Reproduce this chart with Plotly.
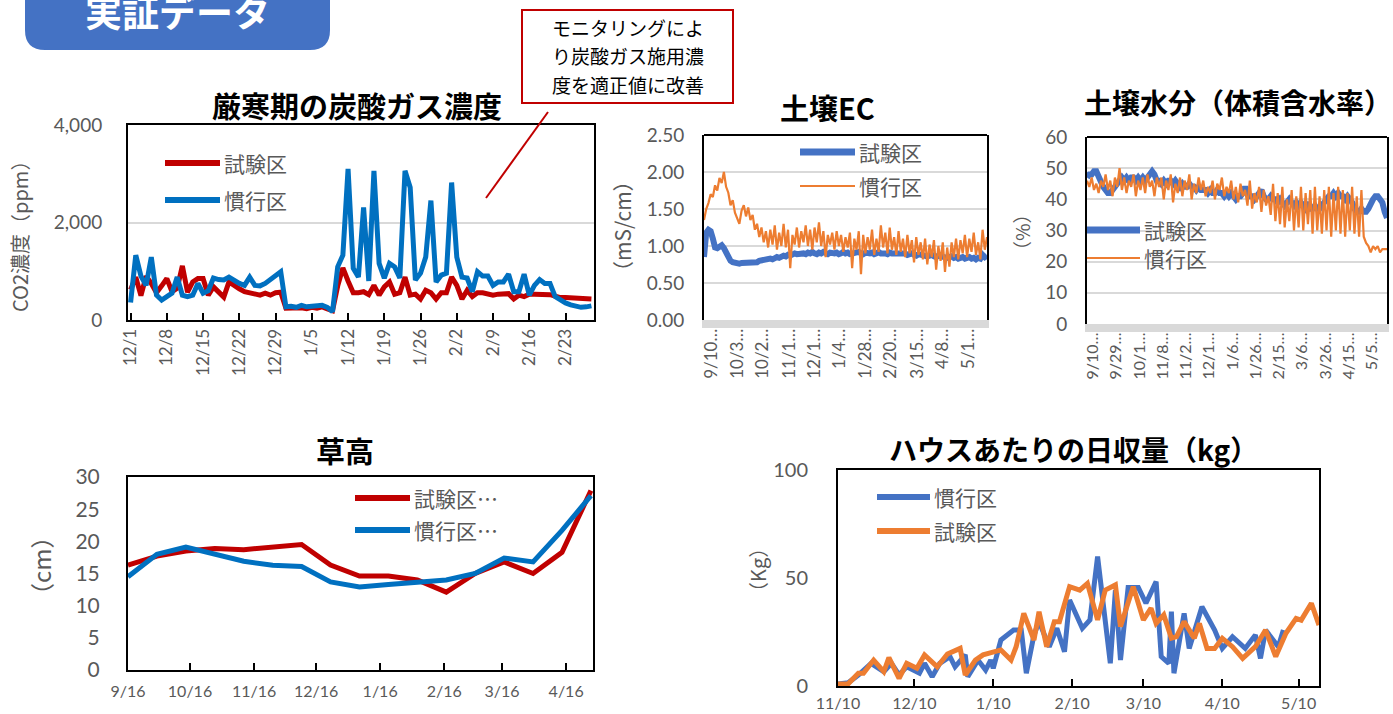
import plotly.graph_objects as go

W, H = 1393, 714


def fx(x):
    """page pixel -> paper x"""
    return x / W


def fy(y):
    """page pixel -> paper y"""
    return 1 - y / H


GREY = "#595959"
GRID = "#d9d9d9"
NUM_FONT = "Lato, 'Noto Sans CJK JP', sans-serif"
JP_FONT = "'Noto Sans CJK JP', sans-serif"

# ---------------- 厳寒期の炭酸ガス濃度 (daily, 12/1 - 2/28) ----------------
co2_names = ["試験区", "慣行区"]
co2_test = [620, 880, 500, 900, 750, 560, 700, 850, 580, 650,
            1110, 570, 780, 850, 850, 510, 680, 560, 470, 780,
            700, 640, 580, 550, 530, 510, 550, 510, 560, 570,
            240, 250, 260, 250, 230, 260, 240, 270, 230, 190,
            700, 1070, 800, 560, 560, 580, 520, 710, 510, 680,
            780, 530, 560, 880, 510, 530, 430, 610, 560, 430,
            560, 560, 880, 710, 430, 610, 480, 560, 560, 540,
            510, 530, 530, 540, 430, 510, 480, 530, 530, 530,
            530, 520, 490, 460, 460, 450, 460, 450, 440, 430]
co2_conv = [360, 1330, 900, 710, 1290, 510, 410, 480, 550, 880,
            510, 480, 510, 750, 550, 600, 860, 830, 820, 880,
            800, 750, 710, 880, 710, 700, 750, 820, 900, 990,
            270, 280, 260, 300, 270, 280, 270, 300, 260, 170,
            1090, 1330, 3100, 1060, 880, 2310, 800, 3060, 1160, 860,
            1160, 1090, 860, 3060, 2720, 820, 960, 1290, 2450, 780,
            920, 960, 2820, 1290, 880, 860, 580, 990, 900, 900,
            710, 780, 780, 940, 580, 580, 940, 510, 710, 830,
            750, 750, 480, 410, 350, 310, 290, 260, 270, 290]
co2_day = [i + 0.5 for i in range(len(co2_test))]
co2_tick_pos = [0.5, 7.5, 14.5, 21.5, 28.5, 35.5, 42.5, 49.5, 56.5, 63.5, 70.5, 77.5, 84.5]
co2_tick_text = ["12/1", "12/8", "12/15", "12/22", "12/29", "1/5", "1/12",
                 "1/19", "1/26", "2/2", "2/9", "2/16", "2/23"]

# ---------------- 土壌EC (sensor log, sampled every 2 days) ----------------
ec_names = ["試験区", "慣行区"]
ec_day = list(range(0, 257, 2))
ec_test = [0.85, 1.18, 1.22, 1.20, 1.10, 0.98, 0.97, 1.00, 1.01, 0.97,
           0.90, 0.84, 0.80, 0.78, 0.77, 0.77, 0.76, 0.77, 0.77, 0.78,
           0.78, 0.77, 0.79, 0.78, 0.78, 0.80, 0.81, 0.80, 0.82, 0.83,
           0.83, 0.82, 0.84, 0.85, 0.84, 0.86, 0.87, 0.86, 0.88, 0.87,
           0.89, 0.90, 0.89, 0.90, 0.91, 0.90, 0.89, 0.91, 0.90, 0.92,
           0.90, 0.89, 0.91, 0.90, 0.92, 0.90, 0.89, 0.91, 0.90, 0.90,
           0.91, 0.89, 0.90, 0.92, 0.90, 0.91, 0.89, 0.90, 0.91, 0.90,
           0.92, 0.90, 0.89, 0.91, 0.90, 0.90, 0.91, 0.89, 0.90, 0.92,
           0.90, 0.91, 0.90, 0.89, 0.91, 0.90, 0.90, 0.89, 0.91, 0.90,
           0.89, 0.90, 0.88, 0.89, 0.90, 0.88, 0.87, 0.89, 0.88, 0.87,
           0.88, 0.86, 0.87, 0.88, 0.86, 0.85, 0.87, 0.86, 0.85, 0.86,
           0.84, 0.85, 0.86, 0.84, 0.85, 0.83, 0.84, 0.85, 0.83, 0.84,
           0.85, 0.83, 0.84, 0.82, 0.84, 0.83, 0.88, 0.85, 0.87]
ec_conv = [1.35, 1.50, 1.58, 1.70, 1.66, 1.82, 1.75, 1.92, 1.85, 2.00,
           1.80, 1.72, 1.55, 1.62, 1.45, 1.38, 1.30, 1.48, 1.55, 1.40,
           1.52, 1.35, 1.42, 1.22, 1.30, 1.12, 1.25, 1.05, 1.20, 0.98,
           1.22, 1.02, 1.28, 0.95, 1.18, 1.00, 1.30, 0.98, 1.22, 0.70,
           1.15, 1.02, 1.25, 0.98, 1.20, 1.05, 1.28, 1.00, 1.22, 0.95,
           1.25, 1.05, 1.32, 1.00, 1.20, 0.85, 1.15, 1.02, 1.18, 0.95,
           1.20, 1.00, 1.15, 0.92, 1.12, 0.98, 1.18, 0.70, 1.10, 0.95,
           1.20, 0.62, 1.15, 0.90, 1.12, 0.95, 1.22, 0.88, 1.10, 0.92,
           1.28, 0.98, 1.18, 0.90, 1.25, 0.95, 1.12, 0.88, 1.20, 0.92,
           1.10, 0.85, 1.15, 0.90, 1.08, 0.78, 1.12, 0.88, 1.05, 0.82,
           1.10, 0.75, 1.02, 0.85, 1.08, 0.68, 1.00, 0.80, 1.05, 0.65,
           0.98, 0.72, 1.05, 0.85, 1.10, 0.82, 1.08, 0.90, 1.15, 0.85,
           1.10, 0.92, 1.18, 0.88, 1.05, 0.82, 1.22, 0.95, 1.12]
ec_tick_pos = [7, 30, 53, 77, 100, 123, 146, 169, 193, 216, 239]
ec_tick_text = ["9/10…", "10/3…", "10/2…", "11/1…", "12/1…", "1/4…",
                "1/28…", "2/20…", "3/15…", "4/8…", "5/1…"]

# ---------------- 土壌水分（体積含水率） ----------------
mo_names = ["試験区", "慣行区"]
mo_day = list(range(0, 259, 2))
mo_test = [47, 48, 48, 49, 49, 47, 46, 44, 43, 42, 42,
           43, 44, 45, 46, 47, 46, 47, 46, 47, 47,
           46, 47, 46, 47, 46, 47, 48, 49, 48, 46,
           46, 45, 46, 45, 46, 46, 45, 46, 45, 44,
           45, 44, 44, 45, 44, 44, 43, 44, 43, 43,
           43, 42, 43, 42, 42, 43, 42, 42, 41, 42,
           41, 42, 41, 40, 41, 41, 42, 44, 42, 41,
           41, 40, 41, 42, 43, 41, 40, 40, 41, 40,
           40, 39, 40, 39, 38, 39, 40, 39, 38, 39,
           38, 39, 38, 37, 38, 37, 37, 38, 37, 37,
           38, 39, 40, 41, 41, 42, 41, 42, 41, 41,
           40, 41, 40, 39, 37, 36, 36, 37, 36, 36,
           37, 39, 40, 41, 41, 40, 39, 36, 34]
mo_conv = [46, 44, 47, 43, 45, 42, 46, 44, 48, 43, 46, 41, 47, 44, 50, 43,
           47, 42, 46, 44, 48, 41, 46, 43, 47, 42, 48, 44, 46, 41, 47,
           44, 47, 40, 46, 43, 48, 39, 45, 42, 47, 41, 46, 43, 48, 40,
           45, 42, 47, 43, 46, 41, 44, 42, 46, 40, 45, 43, 47, 41, 44,
           42, 46, 40, 44, 39, 45, 41, 43, 38, 46, 37, 42, 39, 44, 36,
           43, 38, 41, 35, 45,
           33, 42, 32, 44, 31, 40, 33, 43, 30, 41, 31, 44, 30, 42, 32,
           43, 29, 44, 30, 41,
           29, 43, 30, 44, 28, 42, 30, 44, 29, 43, 28, 42, 30, 44, 29,
           41, 28, 43,
           28, 26, 25, 23, 25, 24, 25, 23, 24, 24, 24]
mo_tick_pos = [5, 25, 45, 65, 85, 105, 125, 145, 165, 185, 205, 225, 245]
mo_tick_text = ["9/10…", "9/29…", "10/1…", "11/8…", "11/2…", "12/1…", "1/6…",
                "1/26…", "2/15…", "3/6…", "3/26…", "4/15…", "5/5…"]

# ---------------- 草高 (every 2 weeks from 9/16) ----------------
ht_names = ["試験区…", "慣行区…"]
ht_day = [0, 14, 28, 42, 56, 70, 84, 98, 112, 126, 140, 154, 168, 182, 196, 210, 224]
ht_test = [16.3, 17.7, 18.5, 18.9, 18.7, 19.1, 19.5, 16.3, 14.6, 14.6,
           14.0, 12.1, 15.0, 16.8, 15.0, 18.3, 27.9]
ht_conv = [14.5, 18.0, 19.1, 18.0, 16.9, 16.3, 16.1, 13.7, 12.9, 13.3,
           13.7, 14.0, 15.0, 17.4, 16.8, 21.7, 27.1]
ht_tick_pos = [0, 30, 61, 91, 122, 153, 181, 212]
ht_tick_text = ["9/16", "10/16", "11/16", "12/16", "1/16", "2/16", "3/16", "4/16"]

# ---------------- ハウスあたりの日収量 (days from 11/10) ----------------
hv_names = ["慣行区", "試験区"]
hv_conv_day = [0, 4, 8, 13, 18, 21, 24, 27, 32, 34, 37, 40, 44, 46, 50, 51, 55, 58, 60,
               61, 64, 69, 72, 74, 77, 79, 83, 86, 89, 91, 96, 99, 102, 105, 107, 109,
               111, 114, 118, 121, 125, 127, 130, 131, 132, 136, 138, 143, 148, 151,
               155, 160, 164, 166, 168, 173, 175]
hv_conv = [0.9, 1.5, 5.1, 10.5, 6.6, 10.5, 5.1, 8.9, 5.9, 10.5, 4.3, 10.5, 13.6, 8.9,
           14.4, 4.3, 12.0, 7.4, 12.0, 8.2, 21.3, 25.9, 25.9, 5.9, 23.6, 29.8, 18.2,
           26.7, 15.9, 39.8, 26.7, 30.6, 59.9, 31.4, 10.5, 44.4, 12.0, 45.6, 45.6,
           38.3, 48.3, 13.6, 10.5, 34.4, 5.9, 33.6, 17.4, 36.7, 25.9, 17.4, 22.8,
           17.4, 23.6, 12.8, 25.9, 18.2, 25.9]
hv_test_day = [0, 4, 8, 10, 14, 18, 20, 24, 27, 31, 34, 39, 43, 48, 50, 54, 57, 61, 64,
               68, 70, 73, 77, 79, 82, 85, 87, 91, 95, 98, 102, 105, 109, 111, 113, 116,
               120, 123, 125, 128, 131, 133, 136, 140, 142, 145, 148, 151, 155, 159,
               164, 168, 172, 176, 180, 182, 186, 189]
hv_test = [0.9, 1.0, 5.9, 5.9, 12.0, 6.6, 13.1, 3.5, 10.5, 8.2, 14.4, 8.9, 14.8, 17.4,
           5.1, 12.0, 14.4, 15.4, 16.7, 12.0, 18.2, 33.6, 21.3, 34.4, 18.2, 29.8, 29.8,
           46.0, 44.4, 47.5, 30.6, 44.4, 46.8, 27.5, 35.0, 46.0, 30.6, 36.0, 29.0, 32.9,
           22.1, 22.8, 29.8, 22.1, 29.0, 17.4, 17.4, 22.1, 18.2, 12.8, 18.2, 25.9, 13.6,
           24.4, 31.3, 30.5, 38.3, 28.2]
hv_tick_pos = [0, 30, 61, 92, 120, 151, 181]
hv_tick_text = ["11/10", "12/10", "1/10", "2/10", "3/10", "4/10", "5/10"]

RED, BLUE = "#C00000", "#0070C0"
XBLUE, XORANGE = "#4472C4", "#ED7D31"

fig = go.Figure()
# CO2
fig.add_trace(go.Scatter(x=co2_day, y=co2_test, name=co2_names[0], mode="lines",
                         line=dict(color=RED, width=5), xaxis="x", yaxis="y"))
fig.add_trace(go.Scatter(x=co2_day, y=co2_conv, name=co2_names[1], mode="lines",
                         line=dict(color=BLUE, width=5), xaxis="x", yaxis="y"))
# EC
fig.add_trace(go.Scatter(x=ec_day, y=ec_test, name=ec_names[0], mode="lines",
                         line=dict(color=XBLUE, width=6), xaxis="x2", yaxis="y2"))
fig.add_trace(go.Scatter(x=ec_day, y=ec_conv, name=ec_names[1], mode="lines",
                         line=dict(color=XORANGE, width=2.2), xaxis="x2", yaxis="y2"))
# moisture
fig.add_trace(go.Scatter(x=mo_day, y=mo_test, name=mo_names[0], mode="lines",
                         line=dict(color=XBLUE, width=6), xaxis="x3", yaxis="y3"))
fig.add_trace(go.Scatter(x=mo_day, y=mo_conv, name=mo_names[1], mode="lines",
                         line=dict(color=XORANGE, width=2.2), xaxis="x3", yaxis="y3"))
# plant height
fig.add_trace(go.Scatter(x=ht_day, y=ht_test, name=ht_names[0], mode="lines",
                         line=dict(color=RED, width=5), xaxis="x4", yaxis="y4"))
fig.add_trace(go.Scatter(x=ht_day, y=ht_conv, name=ht_names[1], mode="lines",
                         line=dict(color=BLUE, width=5), xaxis="x4", yaxis="y4"))
# harvest
fig.add_trace(go.Scatter(x=hv_conv_day, y=hv_conv, name=hv_names[0], mode="lines",
                         line=dict(color=XBLUE, width=5), xaxis="x5", yaxis="y5"))
fig.add_trace(go.Scatter(x=hv_test_day, y=hv_test, name=hv_names[1], mode="lines",
                         line=dict(color=XORANGE, width=5), xaxis="x5", yaxis="y5"))


def xax(left, right, rng, tickpos, ticktext, **kw):
    d = dict(domain=[fx(left), fx(right)], range=rng, tickmode="array",
             tickvals=tickpos, ticktext=ticktext, showline=True, linecolor="black",
             linewidth=2, mirror=True, showgrid=False, zeroline=False, automargin=False,
             tickfont=dict(family=NUM_FONT, size=16, color=GREY), fixedrange=True)
    d.update(kw)
    return d


def yax(top, bottom, rng, dtick, size=19, standoff=14, **kw):
    d = dict(domain=[fy(bottom), fy(top)], range=rng, dtick=dtick, tick0=0,
             showline=True, linecolor="black", linewidth=2, mirror=True,
             showgrid=False, zeroline=False, ticklabelstandoff=standoff, automargin=False,
             tickfont=dict(family=NUM_FONT, size=size, color=GREY), fixedrange=True)
    d.update(kw)
    return d


fig.update_layout(
    width=W, height=H, margin=dict(l=0, r=0, t=0, b=0, pad=0), autosize=False,
    paper_bgcolor="white", plot_bgcolor="white", showlegend=False,
    xaxis=xax(128, 594, [0, 90], co2_tick_pos, co2_tick_text, anchor="y",
              tickangle=-90, ticks="inside", ticklen=7, tickwidth=2, tickcolor="black",
              tickfont=dict(family=NUM_FONT, size=17, color=GREY)),
    yaxis=yax(125, 320, [0, 4000], 2000, anchor="x", tickformat=",",
              showgrid=True, gridcolor=GRID, gridwidth=2, standoff=20),
    xaxis2=xax(704, 987, [0, 256], ec_tick_pos, ec_tick_text, anchor="y2",
               tickangle=-90, linecolor=GRID, linewidth=8, mirror=False,
               ticklabelstandoff=-6, tickfont=dict(family=NUM_FONT, size=17, color=GREY)),
    yaxis2=yax(135, 320, [0, 2.5], 0.5, anchor="x2", tickformat=".2f",
               showgrid=True, gridcolor=GRID, gridwidth=2),
    xaxis3=xax(1087, 1387, [0, 258], mo_tick_pos, mo_tick_text, anchor="y3",
               tickangle=-90, linecolor=GRID, linewidth=8, mirror=False,
               ticklabelstandoff=-6),
    yaxis3=yax(137, 324, [0, 60], 10, anchor="x3",
               showgrid=True, gridcolor=GRID, gridwidth=2),
    xaxis4=xax(128, 593, [0, 225], ht_tick_pos, ht_tick_text, anchor="y4",
               ticks="inside", ticklen=7, tickwidth=2, tickcolor="black",
               ticklabelstandoff=6),
    yaxis4=yax(477, 670, [0, 30], 5, size=21, standoff=22, anchor="x4"),
    xaxis5=xax(838, 1319, [0, 189], hv_tick_pos, hv_tick_text, anchor="y5",
               ticks="inside", ticklen=7, tickwidth=2, tickcolor="black",
               ticklabelstandoff=2),
    yaxis5=yax(470, 686, [0, 100], 50, size=20, standoff=24, anchor="x5"),
)

shapes = []
annotations = []


def text(s, x, y, size, color="black", bold=False, angle=0, family=JP_FONT,
         xanchor="center"):
    annotations.append(dict(text=f"<b>{s}</b>" if bold else s, xref="paper", yref="paper",
                            x=fx(x), y=fy(y), xanchor=xanchor, yanchor="middle",
                            showarrow=False, textangle=angle,
                            font=dict(family=family, size=size, color=color)))


def legend(items, x0, x1, y0, step, size=21):
    for i, (label, color, width) in enumerate(items):
        y = y0 + i * step
        shapes.append(dict(type="line", xref="paper", yref="paper", x0=fx(x0), x1=fx(x1),
                           y0=fy(y), y1=fy(y), line=dict(color=color, width=width)))
        text(label, x1 + 2, y, size, color=GREY, xanchor="left")


# top-left banner
bx0, bx1, by0, by1, r = 25, 330, -12, 50, 20
shapes.append(dict(
    type="path", xref="paper", yref="paper", fillcolor="#4472C4", line=dict(width=0),
    path=(f"M {fx(bx0)},{fy(by0)} L {fx(bx1)},{fy(by0)} L {fx(bx1)},{fy(by1 - r)} "
          f"Q {fx(bx1)},{fy(by1)} {fx(bx1 - r)},{fy(by1)} L {fx(bx0 + r)},{fy(by1)} "
          f"Q {fx(bx0)},{fy(by1)} {fx(bx0)},{fy(by1 - r)} Z")))
text("実証データ", 177, 11, 37, color="white", bold=True)

# callout box
shapes.append(dict(type="rect", xref="paper", yref="paper", x0=fx(522), x1=fx(733),
                   y0=fy(103), y1=fy(10), line=dict(color="#C00000", width=2),
                   fillcolor="white"))
for i, s in enumerate(["モニタリングによ", "り炭酸ガス施用濃", "度を適正値に改善"]):
    text(s, 628, 28 + i * 28, 19)
shapes.append(dict(type="line", xref="paper", yref="paper", x0=fx(548), y0=fy(112),
                   x1=fx(486), y1=fy(198), line=dict(color="#C00000", width=2)))

# top borders for the sensor charts
for l, r_, t in [(704, 987, 135), (1087, 1387, 137)]:
    shapes.append(dict(type="line", xref="paper", yref="paper", x0=fx(l), x1=fx(r_),
                       y0=fy(t), y1=fy(t), line=dict(color="black", width=2)))

# titles
text("厳寒期の炭酸ガス濃度", 357, 105, 29, bold=True)
text("土壌EC", 827, 107, 29, bold=True)
text("土壌水分（体積含水率）", 1238, 102, 28, bold=True)
text("草高", 345, 450, 29, bold=True)
text("ハウスあたりの日収量（kg）", 1073, 449, 28, bold=True)

# axis titles
text("CO2濃度（ppm）", 20, 232, 20, color=GREY, angle=-90)
text("（mS/cm）", 622, 226, 21, color=GREY, angle=-90)
text("（%）", 1022, 232, 19, color=GREY, angle=-90)
text("（cm）", 40, 566, 24, color=GREY, angle=-90)
text("（Kg）", 757, 570, 20, color=GREY, angle=-90)

# legends
legend([(co2_names[0], RED, 6), (co2_names[1], BLUE, 6)], 165, 220, 163, 37)
legend([(ec_names[0], XBLUE, 7), (ec_names[1], XORANGE, 2)], 800, 855, 152, 34)
legend([(mo_names[0], XBLUE, 7), (mo_names[1], XORANGE, 2)], 1087, 1140, 230, 28)
legend([(ht_names[0], RED, 6), (ht_names[1], BLUE, 6)], 355, 410, 498, 32)
legend([(hv_names[0], XBLUE, 6), (hv_names[1], XORANGE, 6)], 877, 930, 497, 34)

fig.update_layout(shapes=shapes, annotations=annotations)
fig.write_html("out.html")
